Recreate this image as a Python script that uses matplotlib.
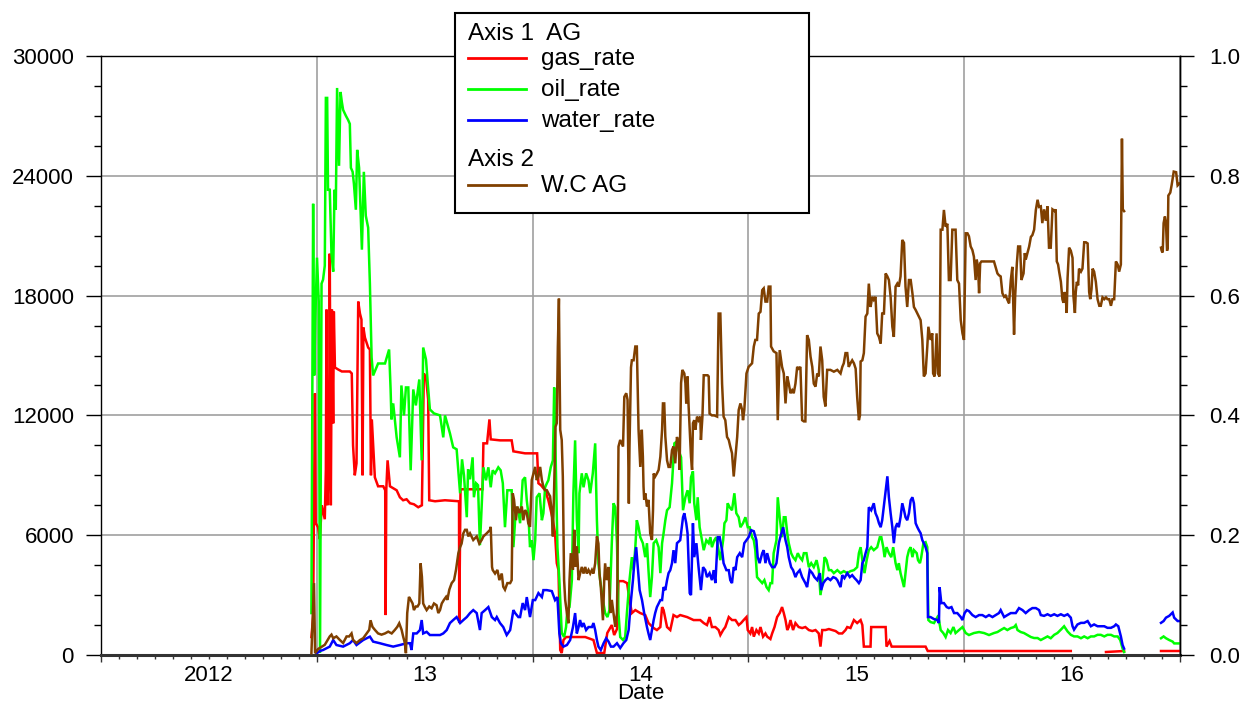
import numpy as np
import matplotlib
matplotlib.use("Agg")
import matplotlib.pyplot as plt
from matplotlib.ticker import MultipleLocator, FixedLocator, FormatStrFormatter, NullFormatter
from matplotlib.lines import Line2D
from matplotlib.patches import Rectangle

plt.rcParams['font.family'] = ['Liberation Sans', 'DejaVu Sans']

nan = np.nan

# time is in decimal years, rates on axis 1, water cut (fraction) on axis 2
year_mid = [2012.5, 2013.5, 2014.5, 2015.5, 2016.5]
year_labels = ['2012', '13', '14', '15', '16']

gas_rate = [
    (2012.975, 900), (2012.983, 1900), (2012.991, 13100), (2012.995, 6600), (2013.006, 6400),
    (2013.014, 5800), (2013.023, 7500), (2013.037, 6800), (2013.042, 9300), (2013.045, 17300),
    (2013.049, 7500), (2013.057, 10000), (2013.060, 20100), (2013.065, 7500), (2013.070, 17300),
    (2013.076, 11600), (2013.079, 17200), (2013.084, 14400), (2013.099, 14300), (2013.116, 14200),
    (2013.135, 14200), (2013.153, 14200), (2013.162, 14100), (2013.168, 10500), (2013.176, 9000),
    (2013.184, 9600), (2013.192, 17700), (2013.200, 17100), (2013.207, 16800), (2013.212, 9000),
    (2013.216, 16400), (2013.223, 15900), (2013.238, 15400), (2013.246, 15300), (2013.251, 9000),
    (2013.255, 11800), (2013.269, 8900), (2013.284, 8450), (2013.308, 8450), (2013.317, 8250),
    (2013.319, 2000), (2013.322, 8300), (2013.328, 9750), (2013.339, 8450), (2013.370, 8250),
    (2013.385, 7900), (2013.400, 7750), (2013.416, 7800), (2013.432, 7600), (2013.450, 7550),
    (2013.470, 7400), (2013.487, 7500), (2013.490, 9750), (2013.496, 14100), (2013.506, 13900),
    (2013.516, 12800), (2013.521, 7750), (2013.548, 7700), (2013.594, 7750), (2013.659, 7700),
    (2013.660, 1600), (2013.666, 8300), (2013.710, 8300), (2013.768, 8300), (2013.772, 10600),
    (2013.789, 10600), (2013.800, 11800), (2013.806, 10800), (2013.849, 10750), (2013.903, 10750),
    (2013.911, 10200), (2013.965, 10100), (2014.021, 10100), (2014.027, 8600), (2014.039, 8500),
    (2014.058, 8250), (2014.073, 7750), (2014.084, 7250), (2014.094, 6750), (2014.104, 6100),
    (2014.112, 4600), (2014.120, 4250), (2014.128, 250), (2014.135, 100), (2014.143, 750),
    (2014.155, 900), (2014.197, 900), (2014.244, 900), (2014.282, 750), (2014.290, 420),
    (2014.298, 100), (2014.332, 100), (2014.346, 1100), (2014.367, 1500), (2014.378, 1000),
    (2014.391, 1300), (2014.398, 3700), (2014.420, 3700), (2014.438, 3600), (2014.449, 2750),
    (2014.460, 2100), (2014.476, 2250), (2014.499, 2100), (2014.522, 2000), (2014.537, 1600),
    (2014.561, 1350), (2014.576, 1250), (2014.592, 1400), (2014.600, 2400), (2014.607, 2250),
    (2014.623, 1400), (2014.638, 1250), (2014.653, 2000), (2014.669, 1900), (2014.684, 2000),
    (2014.716, 1900), (2014.746, 1750), (2014.777, 1750), (2014.793, 1600), (2014.808, 1500),
    (2014.820, 1900), (2014.831, 1400), (2014.847, 1400), (2014.862, 1250), (2014.870, 1000),
    (2014.883, 1250), (2014.893, 1400), (2014.909, 1900), (2014.924, 1750), (2014.940, 1750),
    (2014.955, 1500), (2014.966, 1600), (2014.978, 1750), (2014.991, 1900), (2014.997, 1250),
    (2015.009, 1080), (2015.017, 1400), (2015.025, 920), (2015.037, 1250), (2015.048, 1080),
    (2015.056, 1400), (2015.068, 920), (2015.079, 1080), (2015.087, 920), (2015.102, 800),
    (2015.110, 1080), (2015.121, 1400), (2015.133, 1900), (2015.145, 2100), (2015.156, 2400),
    (2015.164, 2100), (2015.172, 1750), (2015.180, 1250), (2015.187, 1400), (2015.195, 1750),
    (2015.207, 1250), (2015.218, 1600), (2015.233, 1400), (2015.249, 1350), (2015.264, 1400),
    (2015.280, 1250), (2015.296, 1200), (2015.311, 1250), (2015.326, 1080), (2015.334, 420),
    (2015.342, 1250), (2015.357, 1250), (2015.373, 1300), (2015.388, 1250), (2015.404, 1200),
    (2015.419, 1080), (2015.435, 1080), (2015.450, 1250), (2015.458, 1400), (2015.473, 1350),
    (2015.489, 1750), (2015.504, 1600), (2015.520, 1750), (2015.528, 1500), (2015.535, 420),
    (2015.566, 420), (2015.569, 1400), (2015.636, 1400), (2015.640, 420), (2015.654, 700),
    (2015.664, 420), (2015.821, 420), (2015.831, 200), (2016.494, 200), (2016.500, nan),
    (2016.657, 150), (2016.741, 200), (2016.800, nan), (2016.912, 200), (2016.999, 200),
]

oil_rate = [
    (2012.975, 2100), (2012.983, 22600), (2012.988, 14000), (2012.993, 16800), (2013.001, 19900),
    (2013.009, 17700), (2013.015, 100), (2013.022, 18600), (2013.029, 18800), (2013.037, 19500),
    (2013.042, 27900), (2013.048, 27900), (2013.052, 23300), (2013.060, 23300), (2013.068, 20100),
    (2013.076, 19200), (2013.082, 23300), (2013.088, 22300), (2013.094, 28400), (2013.103, 24500),
    (2013.110, 28200), (2013.116, 27700), (2013.122, 27300), (2013.135, 27000), (2013.145, 26800),
    (2013.153, 26600), (2013.158, 24400), (2013.166, 24200), (2013.172, 23600), (2013.181, 22300),
    (2013.187, 25300), (2013.196, 24400), (2013.209, 20300), (2013.218, 24200), (2013.227, 22000),
    (2013.238, 21400), (2013.246, 18600), (2013.254, 14900), (2013.261, 14000), (2013.284, 14600),
    (2013.316, 14600), (2013.335, 15300), (2013.342, 13300), (2013.346, 11800), (2013.354, 12600),
    (2013.370, 10900), (2013.385, 9900), (2013.392, 13500), (2013.404, 12000), (2013.413, 13400),
    (2013.424, 13400), (2013.435, 9250), (2013.447, 13300), (2013.459, 12500), (2013.475, 13800),
    (2013.486, 9750), (2013.493, 15400), (2013.506, 14800), (2013.515, 13500), (2013.524, 12300),
    (2013.543, 12100), (2013.571, 12000), (2013.586, 10900), (2013.594, 12000), (2013.617, 11100),
    (2013.632, 10400), (2013.648, 10300), (2013.664, 8100), (2013.673, 9800), (2013.682, 9000),
    (2013.695, 6900), (2013.701, 9300), (2013.710, 8800), (2013.722, 9900), (2013.728, 7900),
    (2013.738, 8600), (2013.747, 8500), (2013.756, 5500), (2013.772, 9400), (2013.784, 8750),
    (2013.795, 9400), (2013.806, 8400), (2013.815, 9250), (2013.826, 9100), (2013.841, 9400),
    (2013.852, 9250), (2013.862, 8600), (2013.872, 6400), (2013.883, 8250), (2013.903, 8250),
    (2013.911, 5400), (2013.923, 7400), (2013.934, 7250), (2013.942, 6600), (2013.954, 8750),
    (2013.965, 8900), (2013.973, 7750), (2013.980, 7100), (2013.988, 5400), (2013.996, 5750),
    (2014.004, 4750), (2014.012, 5750), (2014.019, 7900), (2014.032, 8100), (2014.043, 6750),
    (2014.050, 7100), (2014.058, 8400), (2014.066, 8600), (2014.073, 8750), (2014.084, 9400),
    (2014.094, 9750), (2014.100, 13400), (2014.106, 10400), (2014.115, 5400), (2014.124, 3750),
    (2014.135, 1100), (2014.146, 900), (2014.155, 1400), (2014.161, 2250), (2014.171, 2400),
    (2014.182, 3750), (2014.189, 8100), (2014.197, 10750), (2014.205, 6750), (2014.213, 5100),
    (2014.217, 8100), (2014.228, 9100), (2014.236, 8400), (2014.248, 9100), (2014.259, 8750),
    (2014.267, 8100), (2014.279, 9100), (2014.290, 10600), (2014.298, 6750), (2014.305, 4600),
    (2014.313, 3750), (2014.326, 2750), (2014.336, 2100), (2014.347, 1900), (2014.356, 2250),
    (2014.367, 5600), (2014.375, 7600), (2014.383, 7400), (2014.391, 5600), (2014.398, 2100),
    (2014.406, 900), (2014.419, 750), (2014.429, 900), (2014.437, 2100), (2014.449, 3750),
    (2014.460, 4900), (2014.468, 4250), (2014.476, 5400), (2014.483, 6750), (2014.491, 6400),
    (2014.499, 5900), (2014.511, 5600), (2014.522, 4900), (2014.530, 5600), (2014.537, 4250),
    (2014.545, 2900), (2014.553, 3900), (2014.561, 5600), (2014.573, 5750), (2014.584, 5400),
    (2014.592, 4100), (2014.600, 5600), (2014.607, 6100), (2014.615, 6750), (2014.623, 7250),
    (2014.635, 7400), (2014.646, 8600), (2014.657, 10600), (2014.669, 10700), (2014.677, 10250),
    (2014.688, 9900), (2014.697, 7250), (2014.708, 7900), (2014.718, 8250), (2014.728, 7600),
    (2014.734, 8900), (2014.743, 9200), (2014.749, 7600), (2014.759, 6750), (2014.765, 7900),
    (2014.774, 6400), (2014.785, 5750), (2014.793, 5250), (2014.805, 5750), (2014.816, 5600),
    (2014.824, 5900), (2014.831, 5400), (2014.842, 5750), (2014.851, 5900), (2014.862, 5250),
    (2014.870, 4750), (2014.883, 5750), (2014.889, 6600), (2014.898, 6750), (2014.904, 7600),
    (2014.913, 7400), (2014.924, 7250), (2014.935, 8100), (2014.944, 7100), (2014.955, 6900),
    (2014.963, 6400), (2014.975, 6600), (2014.986, 6900), (2014.997, 6400), (2015.006, 6400),
    (2015.017, 5900), (2015.025, 5750), (2015.032, 5250), (2015.040, 3900), (2015.052, 3750),
    (2015.064, 3600), (2015.074, 3750), (2015.084, 3400), (2015.094, 3250), (2015.102, 3600),
    (2015.110, 3600), (2015.117, 5100), (2015.130, 5750), (2015.136, 7900), (2015.145, 6900),
    (2015.156, 5900), (2015.164, 6900), (2015.172, 6900), (2015.180, 6100), (2015.187, 5600),
    (2015.198, 5100), (2015.207, 4900), (2015.218, 4750), (2015.229, 5100), (2015.238, 4900),
    (2015.249, 4750), (2015.257, 5100), (2015.269, 5100), (2015.280, 4400), (2015.291, 4600),
    (2015.303, 4400), (2015.316, 4750), (2015.326, 4250), (2015.334, 3000), (2015.342, 3600),
    (2015.353, 4900), (2015.362, 4750), (2015.373, 4250), (2015.384, 4250), (2015.396, 4100),
    (2015.412, 4250), (2015.427, 4100), (2015.442, 4200), (2015.458, 4100), (2015.473, 4200),
    (2015.489, 4250), (2015.504, 4400), (2015.512, 5100), (2015.520, 5400), (2015.528, 4750),
    (2015.538, 4100), (2015.548, 4750), (2015.558, 5250), (2015.569, 5400), (2015.581, 5250),
    (2015.597, 5400), (2015.609, 5900), (2015.616, 5900), (2015.625, 5400), (2015.631, 4900),
    (2015.640, 5400), (2015.651, 5100), (2015.662, 4900), (2015.671, 5400), (2015.682, 4600),
    (2015.690, 4250), (2015.697, 4600), (2015.705, 4100), (2015.713, 3750), (2015.721, 3400),
    (2015.728, 4100), (2015.736, 4900), (2015.744, 5250), (2015.752, 5400), (2015.760, 4900),
    (2015.767, 5250), (2015.780, 5100), (2015.786, 4750), (2015.795, 4600), (2015.801, 4900),
    (2015.811, 5600), (2015.821, 5650), (2015.829, 5400), (2015.834, 1750), (2015.844, 1650),
    (2015.860, 1600), (2015.876, 1900), (2015.883, 1750), (2015.891, 1250), (2015.903, 1100),
    (2015.914, 900), (2015.925, 1250), (2015.937, 1100), (2015.950, 1400), (2015.960, 1100),
    (2015.976, 1250), (2015.992, 1400), (2016.007, 1100), (2016.022, 1000), (2016.045, 1100),
    (2016.069, 1150), (2016.092, 1100), (2016.115, 1000), (2016.138, 1100), (2016.154, 1150),
    (2016.169, 1250), (2016.185, 1350), (2016.200, 1250), (2016.216, 1350), (2016.231, 1400),
    (2016.239, 1500), (2016.247, 1250), (2016.262, 1150), (2016.277, 1100), (2016.293, 1000),
    (2016.309, 900), (2016.324, 850), (2016.340, 850), (2016.355, 750), (2016.370, 840),
    (2016.386, 930), (2016.401, 840), (2016.417, 1010), (2016.432, 1100), (2016.448, 1270),
    (2016.463, 1440), (2016.479, 1180), (2016.494, 1010), (2016.509, 930), (2016.525, 930),
    (2016.541, 840), (2016.556, 930), (2016.572, 840), (2016.587, 930), (2016.602, 930),
    (2016.618, 1010), (2016.633, 1010), (2016.649, 930), (2016.664, 1010), (2016.680, 1010),
    (2016.695, 930), (2016.711, 930), (2016.723, 750), (2016.734, 320), (2016.741, 150),
    (2016.800, nan), (2016.912, 840), (2016.924, 930), (2016.935, 840), (2016.950, 750),
    (2016.966, 670), (2016.973, 580), (2016.997, 580),
]

water_rate = [
    (2012.999, 80), (2013.014, 200), (2013.029, 250), (2013.060, 420), (2013.076, 750),
    (2013.091, 500), (2013.122, 420), (2013.153, 590), (2013.168, 750), (2013.184, 500),
    (2013.215, 750), (2013.246, 920), (2013.261, 670), (2013.292, 590), (2013.323, 500),
    (2013.354, 420), (2013.385, 500), (2013.416, 590), (2013.432, 590), (2013.439, 250),
    (2013.447, 1080), (2013.463, 1080), (2013.478, 1250), (2013.486, 1750), (2013.493, 1080),
    (2013.509, 1160), (2013.524, 1000), (2013.555, 1000), (2013.571, 1000), (2013.586, 1080),
    (2013.602, 1250), (2013.617, 1600), (2013.632, 1750), (2013.648, 1900), (2013.664, 1600),
    (2013.679, 1750), (2013.695, 1900), (2013.710, 2100), (2013.725, 2250), (2013.741, 2100),
    (2013.756, 1250), (2013.764, 2100), (2013.780, 2250), (2013.795, 2400), (2013.811, 1900),
    (2013.826, 1750), (2013.834, 1900), (2013.849, 1600), (2013.864, 1400), (2013.880, 1000),
    (2013.896, 1250), (2013.911, 2250), (2013.919, 2100), (2013.934, 1900), (2013.942, 1900),
    (2013.954, 2600), (2013.965, 2250), (2013.973, 2900), (2013.988, 1900), (2014.001, 2750),
    (2014.012, 2750), (2014.027, 3100), (2014.043, 2900), (2014.050, 3250), (2014.066, 3250),
    (2014.089, 3200), (2014.104, 2750), (2014.115, 2900), (2014.124, 1080), (2014.131, 590),
    (2014.143, 420), (2014.159, 500), (2014.174, 750), (2014.187, 1400), (2014.197, 2100),
    (2014.205, 1080), (2014.213, 1400), (2014.220, 1750), (2014.228, 1400), (2014.236, 1600),
    (2014.248, 1250), (2014.259, 1400), (2014.275, 1400), (2014.282, 1600), (2014.290, 1250),
    (2014.298, 750), (2014.305, 420), (2014.316, 250), (2014.329, 590), (2014.341, 840),
    (2014.352, 670), (2014.363, 420), (2014.375, 420), (2014.391, 590), (2014.406, 350),
    (2014.421, 590), (2014.434, 750), (2014.445, 1250), (2014.456, 2750), (2014.465, 3750),
    (2014.471, 4600), (2014.480, 5400), (2014.486, 4600), (2014.496, 3250), (2014.507, 2750),
    (2014.517, 2100), (2014.530, 1400), (2014.537, 1080), (2014.545, 750), (2014.553, 1250),
    (2014.561, 1750), (2014.568, 2100), (2014.576, 2400), (2014.592, 2750), (2014.600, 2750),
    (2014.607, 3400), (2014.615, 3250), (2014.623, 3750), (2014.630, 4100), (2014.638, 4250),
    (2014.646, 4600), (2014.653, 5250), (2014.661, 4600), (2014.669, 5600), (2014.684, 5750),
    (2014.697, 6900), (2014.703, 7100), (2014.712, 6600), (2014.718, 6100), (2014.728, 3100),
    (2014.734, 3000), (2014.743, 6600), (2014.749, 4900), (2014.759, 5600), (2014.769, 4400),
    (2014.780, 3250), (2014.790, 4400), (2014.800, 4250), (2014.808, 3900), (2014.820, 4100),
    (2014.831, 3750), (2014.839, 4250), (2014.847, 3600), (2014.858, 5900), (2014.867, 5900),
    (2014.878, 5250), (2014.885, 4600), (2014.898, 4250), (2014.909, 4250), (2014.916, 3750),
    (2014.924, 3600), (2014.932, 4400), (2014.940, 4250), (2014.948, 4900), (2014.960, 5100),
    (2014.971, 4900), (2014.981, 5600), (2014.991, 5750), (2015.001, 5900), (2015.013, 6250),
    (2015.025, 6200), (2015.037, 5750), (2015.043, 4900), (2015.052, 4600), (2015.064, 5100),
    (2015.071, 5250), (2015.079, 4600), (2015.087, 5100), (2015.099, 4600), (2015.110, 4400),
    (2015.121, 4400), (2015.130, 4600), (2015.141, 5600), (2015.148, 5900), (2015.161, 6400),
    (2015.172, 5750), (2015.180, 5400), (2015.187, 4900), (2015.198, 4400), (2015.207, 4250),
    (2015.218, 3900), (2015.226, 4100), (2015.238, 4250), (2015.249, 3900), (2015.264, 3600),
    (2015.272, 3400), (2015.284, 4250), (2015.296, 4100), (2015.306, 3900), (2015.319, 3750),
    (2015.331, 4100), (2015.337, 3250), (2015.347, 3600), (2015.357, 3750), (2015.368, 3850),
    (2015.380, 3750), (2015.393, 3900), (2015.404, 3850), (2015.412, 3750), (2015.427, 3400),
    (2015.435, 4000), (2015.445, 3850), (2015.458, 4100), (2015.470, 3900), (2015.481, 4000),
    (2015.492, 3850), (2015.501, 3750), (2015.512, 3600), (2015.520, 3750), (2015.528, 4600),
    (2015.535, 4750), (2015.543, 5100), (2015.551, 5400), (2015.558, 7400), (2015.569, 7250),
    (2015.581, 7600), (2015.589, 7100), (2015.597, 6900), (2015.605, 6600), (2015.613, 6400),
    (2015.620, 6750), (2015.631, 7750), (2015.644, 8950), (2015.651, 7900), (2015.659, 7100),
    (2015.667, 6400), (2015.674, 5600), (2015.682, 6400), (2015.690, 6600), (2015.697, 6400),
    (2015.705, 6900), (2015.713, 7600), (2015.721, 7250), (2015.728, 6900), (2015.736, 6750),
    (2015.744, 7100), (2015.752, 7750), (2015.760, 7900), (2015.767, 7600), (2015.775, 6600),
    (2015.783, 6400), (2015.790, 6250), (2015.798, 6100), (2015.806, 5750), (2015.813, 5600),
    (2015.821, 5400), (2015.829, 5100), (2015.832, 1900), (2015.844, 1900), (2015.860, 1800),
    (2015.876, 1750), (2015.883, 1600), (2015.886, 3400), (2015.894, 2600), (2015.906, 2600),
    (2015.919, 2400), (2015.929, 2350), (2015.941, 2400), (2015.953, 2100), (2015.968, 2100),
    (2015.984, 1900), (2015.992, 1750), (2016.002, 2100), (2016.012, 2250), (2016.022, 2200),
    (2016.038, 2000), (2016.053, 1900), (2016.069, 2000), (2016.084, 2000), (2016.100, 1900),
    (2016.115, 2000), (2016.131, 1900), (2016.146, 2000), (2016.161, 2100), (2016.169, 2250),
    (2016.185, 1900), (2016.200, 2000), (2016.216, 2100), (2016.239, 2100), (2016.254, 2350),
    (2016.270, 2250), (2016.285, 2100), (2016.301, 2250), (2016.316, 2350), (2016.332, 2350),
    (2016.347, 2250), (2016.355, 2000), (2016.370, 1960), (2016.386, 2040), (2016.401, 1960),
    (2016.417, 2040), (2016.432, 1960), (2016.448, 2040), (2016.463, 1960), (2016.479, 2040),
    (2016.494, 1870), (2016.502, 1440), (2016.509, 1270), (2016.525, 1530), (2016.541, 1610),
    (2016.556, 1610), (2016.572, 1700), (2016.587, 1440), (2016.602, 1530), (2016.618, 1440),
    (2016.633, 1440), (2016.649, 1440), (2016.664, 1360), (2016.680, 1360), (2016.695, 1440),
    (2016.703, 1530), (2016.714, 1440), (2016.726, 930), (2016.734, 500), (2016.741, 320),
    (2016.800, nan), (2016.912, 1610), (2016.924, 1700), (2016.935, 1870), (2016.950, 1960),
    (2016.966, 2130), (2016.973, 1870), (2016.989, 1700), (2016.997, 1700),
]

water_cut = [
    (2012.975, 0.003), (2012.987, 0.12), (2012.992, 0.003), (2013.006, 0.01), (2013.037, 0.017),
    (2013.060, 0.031), (2013.068, 0.034), (2013.076, 0.028), (2013.091, 0.031), (2013.107, 0.025),
    (2013.122, 0.020), (2013.138, 0.031), (2013.150, 0.031), (2013.161, 0.036), (2013.168, 0.025),
    (2013.184, 0.020), (2013.200, 0.025), (2013.215, 0.028), (2013.231, 0.036), (2013.243, 0.042),
    (2013.249, 0.058), (2013.258, 0.047), (2013.269, 0.042), (2013.284, 0.036), (2013.300, 0.034),
    (2013.316, 0.036), (2013.331, 0.039), (2013.347, 0.036), (2013.362, 0.042), (2013.373, 0.047),
    (2013.382, 0.053), (2013.393, 0.042), (2013.400, 0.031), (2013.408, 0.020), (2013.413, 0.003),
    (2013.419, 0.070), (2013.427, 0.097), (2013.435, 0.092), (2013.444, 0.086), (2013.450, 0.075),
    (2013.459, 0.081), (2013.467, 0.081), (2013.475, 0.086), (2013.481, 0.153), (2013.487, 0.131),
    (2013.493, 0.086), (2013.501, 0.080), (2013.509, 0.075), (2013.521, 0.081), (2013.532, 0.078),
    (2013.543, 0.086), (2013.555, 0.083), (2013.563, 0.070), (2013.571, 0.075), (2013.579, 0.086),
    (2013.589, 0.092), (2013.599, 0.097), (2013.605, 0.092), (2013.614, 0.109), (2013.625, 0.120),
    (2013.636, 0.125), (2013.645, 0.142), (2013.656, 0.170), (2013.664, 0.180), (2013.671, 0.186),
    (2013.679, 0.203), (2013.687, 0.209), (2013.695, 0.209), (2013.702, 0.198), (2013.710, 0.203),
    (2013.725, 0.192), (2013.741, 0.198), (2013.753, 0.186), (2013.764, 0.192), (2013.772, 0.198),
    (2013.787, 0.203), (2013.803, 0.209), (2013.806, 0.214), (2013.812, 0.147), (2013.815, 0.142),
    (2013.826, 0.136), (2013.837, 0.142), (2013.846, 0.125), (2013.857, 0.136), (2013.864, 0.114),
    (2013.872, 0.109), (2013.883, 0.120), (2013.896, 0.120), (2013.903, 0.125), (2013.908, 0.270),
    (2013.914, 0.259), (2013.923, 0.225), (2013.929, 0.248), (2013.939, 0.237), (2013.950, 0.248),
    (2013.957, 0.225), (2013.965, 0.242), (2013.973, 0.237), (2013.980, 0.220), (2013.988, 0.214),
    (2013.996, 0.292), (2014.004, 0.303), (2014.012, 0.314), (2014.019, 0.292), (2014.027, 0.298),
    (2014.035, 0.314), (2014.043, 0.292), (2014.050, 0.281), (2014.058, 0.275), (2014.066, 0.275),
    (2014.073, 0.270), (2014.081, 0.265), (2014.089, 0.237), (2014.094, 0.198), (2014.100, 0.281),
    (2014.106, 0.381), (2014.112, 0.387), (2014.117, 0.515), (2014.122, 0.595), (2014.124, 0.515),
    (2014.128, 0.376), (2014.135, 0.359), (2014.140, 0.298), (2014.146, 0.125), (2014.151, 0.092),
    (2014.159, 0.070), (2014.166, 0.053), (2014.171, 0.125), (2014.177, 0.170), (2014.187, 0.142),
    (2014.193, 0.209), (2014.199, 0.147), (2014.205, 0.181), (2014.213, 0.125), (2014.220, 0.136),
    (2014.228, 0.147), (2014.236, 0.136), (2014.244, 0.147), (2014.251, 0.136), (2014.259, 0.142),
    (2014.267, 0.136), (2014.275, 0.142), (2014.282, 0.136), (2014.290, 0.153), (2014.298, 0.198),
    (2014.305, 0.186), (2014.310, 0.136), (2014.316, 0.114), (2014.326, 0.058), (2014.332, 0.125),
    (2014.336, 0.153), (2014.344, 0.125), (2014.352, 0.147), (2014.360, 0.070), (2014.367, 0.092),
    (2014.375, 0.070), (2014.383, 0.047), (2014.391, 0.070), (2014.393, 0.125), (2014.398, 0.348),
    (2014.406, 0.359), (2014.419, 0.348), (2014.425, 0.431), (2014.434, 0.437), (2014.440, 0.426),
    (2014.446, 0.253), (2014.449, 0.348), (2014.456, 0.480), (2014.460, 0.492), (2014.468, 0.492),
    (2014.476, 0.515), (2014.483, 0.515), (2014.486, 0.465), (2014.491, 0.376), (2014.499, 0.314),
    (2014.506, 0.376), (2014.511, 0.331), (2014.514, 0.281), (2014.517, 0.259), (2014.522, 0.270),
    (2014.530, 0.248), (2014.537, 0.259), (2014.545, 0.203), (2014.553, 0.192), (2014.558, 0.242),
    (2014.561, 0.303), (2014.568, 0.298), (2014.576, 0.303), (2014.584, 0.309), (2014.592, 0.331),
    (2014.600, 0.376), (2014.604, 0.420), (2014.610, 0.420), (2014.615, 0.365), (2014.623, 0.325),
    (2014.630, 0.314), (2014.638, 0.314), (2014.646, 0.342), (2014.653, 0.348), (2014.661, 0.320),
    (2014.669, 0.364), (2014.677, 0.353), (2014.681, 0.309), (2014.688, 0.454), (2014.694, 0.476),
    (2014.703, 0.470), (2014.708, 0.454), (2014.712, 0.420), (2014.718, 0.465), (2014.723, 0.415),
    (2014.728, 0.376), (2014.734, 0.331), (2014.739, 0.309), (2014.743, 0.387), (2014.749, 0.392),
    (2014.754, 0.376), (2014.762, 0.398), (2014.769, 0.392), (2014.777, 0.398), (2014.780, 0.359),
    (2014.787, 0.398), (2014.793, 0.467), (2014.800, 0.467), (2014.811, 0.467), (2014.816, 0.465),
    (2014.820, 0.403), (2014.831, 0.400), (2014.842, 0.400), (2014.855, 0.398), (2014.862, 0.570),
    (2014.870, 0.570), (2014.878, 0.453), (2014.885, 0.398), (2014.893, 0.392), (2014.901, 0.364),
    (2014.909, 0.359), (2014.916, 0.348), (2014.924, 0.337), (2014.932, 0.298), (2014.940, 0.331),
    (2014.948, 0.364), (2014.955, 0.409), (2014.963, 0.420), (2014.971, 0.409), (2014.975, 0.392),
    (2014.981, 0.409), (2014.991, 0.470), (2015.001, 0.481), (2015.009, 0.484), (2015.017, 0.487),
    (2015.025, 0.515), (2015.032, 0.526), (2015.040, 0.526), (2015.048, 0.570), (2015.056, 0.573),
    (2015.064, 0.609), (2015.071, 0.612), (2015.079, 0.590), (2015.087, 0.590), (2015.094, 0.615),
    (2015.102, 0.615), (2015.105, 0.515), (2015.117, 0.507), (2015.130, 0.504), (2015.136, 0.392),
    (2015.145, 0.509), (2015.156, 0.481), (2015.164, 0.470), (2015.172, 0.420), (2015.180, 0.465),
    (2015.187, 0.453), (2015.195, 0.437), (2015.203, 0.442), (2015.210, 0.437), (2015.218, 0.453),
    (2015.226, 0.481), (2015.233, 0.478), (2015.241, 0.481), (2015.249, 0.392), (2015.257, 0.390),
    (2015.264, 0.390), (2015.272, 0.534), (2015.280, 0.526), (2015.288, 0.498), (2015.296, 0.481),
    (2015.303, 0.453), (2015.311, 0.448), (2015.319, 0.470), (2015.326, 0.465), (2015.334, 0.515),
    (2015.342, 0.492), (2015.349, 0.431), (2015.357, 0.415), (2015.365, 0.476), (2015.380, 0.476),
    (2015.396, 0.473), (2015.412, 0.476), (2015.427, 0.470), (2015.435, 0.481), (2015.442, 0.487),
    (2015.450, 0.504), (2015.458, 0.504), (2015.465, 0.481), (2015.473, 0.487), (2015.481, 0.492),
    (2015.489, 0.487), (2015.497, 0.478), (2015.504, 0.431), (2015.512, 0.392), (2015.517, 0.400),
    (2015.520, 0.490), (2015.528, 0.492), (2015.535, 0.504), (2015.543, 0.565), (2015.551, 0.570),
    (2015.558, 0.620), (2015.566, 0.581), (2015.574, 0.598), (2015.581, 0.593), (2015.589, 0.598),
    (2015.597, 0.537), (2015.605, 0.531), (2015.613, 0.520), (2015.620, 0.570), (2015.628, 0.570),
    (2015.636, 0.637), (2015.644, 0.632), (2015.651, 0.626), (2015.659, 0.598), (2015.667, 0.548),
    (2015.674, 0.531), (2015.682, 0.615), (2015.690, 0.620), (2015.697, 0.615), (2015.705, 0.632),
    (2015.713, 0.693), (2015.721, 0.688), (2015.728, 0.615), (2015.736, 0.581), (2015.744, 0.626),
    (2015.752, 0.626), (2015.760, 0.604), (2015.767, 0.581), (2015.775, 0.576), (2015.783, 0.570),
    (2015.790, 0.565), (2015.798, 0.559), (2015.806, 0.526), (2015.813, 0.465), (2015.821, 0.470),
    (2015.829, 0.515), (2015.834, 0.548), (2015.844, 0.526), (2015.852, 0.537), (2015.856, 0.470),
    (2015.863, 0.465), (2015.872, 0.537), (2015.878, 0.470), (2015.886, 0.465), (2015.891, 0.710),
    (2015.899, 0.710), (2015.906, 0.743), (2015.914, 0.715), (2015.922, 0.720), (2015.929, 0.626),
    (2015.937, 0.626), (2015.945, 0.710), (2015.953, 0.710), (2015.960, 0.710), (2015.968, 0.626),
    (2015.976, 0.620), (2015.984, 0.559), (2015.992, 0.537), (2015.999, 0.526), (2016.007, 0.704),
    (2016.015, 0.704), (2016.022, 0.699), (2016.030, 0.682), (2016.038, 0.676), (2016.045, 0.665),
    (2016.053, 0.626), (2016.058, 0.660), (2016.064, 0.648), (2016.069, 0.604), (2016.074, 0.654),
    (2016.080, 0.657), (2016.089, 0.657), (2016.108, 0.657), (2016.123, 0.657), (2016.138, 0.657),
    (2016.154, 0.637), (2016.161, 0.634), (2016.169, 0.632), (2016.177, 0.604), (2016.185, 0.598),
    (2016.192, 0.600), (2016.200, 0.593), (2016.208, 0.587), (2016.216, 0.626), (2016.223, 0.648),
    (2016.231, 0.535), (2016.236, 0.598), (2016.244, 0.654), (2016.250, 0.682), (2016.259, 0.682),
    (2016.265, 0.626), (2016.275, 0.637), (2016.281, 0.671), (2016.285, 0.660), (2016.293, 0.671),
    (2016.301, 0.682), (2016.309, 0.698), (2016.316, 0.701), (2016.324, 0.710), (2016.332, 0.743),
    (2016.340, 0.760), (2016.347, 0.748), (2016.355, 0.749), (2016.362, 0.721), (2016.370, 0.744),
    (2016.378, 0.725), (2016.386, 0.749), (2016.393, 0.680), (2016.401, 0.680), (2016.409, 0.744),
    (2016.420, 0.741), (2016.424, 0.744), (2016.429, 0.657), (2016.435, 0.652), (2016.440, 0.640),
    (2016.448, 0.623), (2016.455, 0.594), (2016.460, 0.588), (2016.466, 0.606), (2016.471, 0.594),
    (2016.475, 0.571), (2016.479, 0.629), (2016.486, 0.680), (2016.494, 0.675), (2016.502, 0.663),
    (2016.506, 0.600), (2016.513, 0.571), (2016.517, 0.606), (2016.522, 0.623), (2016.528, 0.617),
    (2016.532, 0.645), (2016.541, 0.640), (2016.548, 0.645), (2016.556, 0.689), (2016.564, 0.689),
    (2016.572, 0.687), (2016.579, 0.606), (2016.584, 0.594), (2016.590, 0.611), (2016.595, 0.645),
    (2016.602, 0.640), (2016.610, 0.623), (2016.618, 0.594), (2016.626, 0.583), (2016.633, 0.583),
    (2016.641, 0.597), (2016.649, 0.594), (2016.657, 0.597), (2016.664, 0.594), (2016.672, 0.594),
    (2016.680, 0.583), (2016.687, 0.594), (2016.695, 0.594), (2016.703, 0.657), (2016.711, 0.652),
    (2016.718, 0.640), (2016.726, 0.652), (2016.731, 0.862), (2016.735, 0.744), (2016.741, 0.741),
    (2016.800, nan), (2016.912, 0.680), (2016.915, 0.675), (2016.920, 0.672), (2016.924, 0.721),
    (2016.930, 0.732), (2016.935, 0.721), (2016.940, 0.675), (2016.943, 0.680), (2016.946, 0.767),
    (2016.955, 0.772), (2016.961, 0.784), (2016.971, 0.807), (2016.982, 0.806), (2016.989, 0.784),
    (2016.997, 0.787),
]

red = '#ff0000'
green = '#00ff00'
blue = '#0000ff'
brown = '#804000'
grid_c = '#a0a0a0'

fig = plt.figure(figsize=(12.46, 7.05), dpi=100)
ax = fig.add_axes([101 / 1246, 50 / 705, 1079 / 1246, 599 / 705])
ax2 = ax.twinx()

for data, col in [(gas_rate, red), (oil_rate, green), (water_rate, blue)]:
    t, v = zip(*data)
    ax.plot(t, v, color=col, lw=1.8, solid_joinstyle='miter')
t, v = zip(*water_cut)
ax2.plot(t, v, color=brown, lw=1.8, solid_joinstyle='miter')

ax.set_xlim(2012, 2017)
ax.set_ylim(0, 30000)
ax2.set_ylim(0, 1)

ax.xaxis.set_major_locator(FixedLocator([2012, 2013, 2014, 2015, 2016, 2017]))
ax.xaxis.set_minor_locator(MultipleLocator(1 / 12))
ax.xaxis.set_major_formatter(NullFormatter())
ax.yaxis.set_major_locator(MultipleLocator(6000))
ax.yaxis.set_minor_locator(MultipleLocator(1500))
ax.yaxis.set_major_formatter(FormatStrFormatter('%d'))
ax2.yaxis.set_major_locator(MultipleLocator(0.2))
ax2.yaxis.set_minor_locator(MultipleLocator(0.05))
ax2.yaxis.set_major_formatter(FormatStrFormatter('%.1f'))

ax.grid(True, which='major', color=grid_c, lw=1.2)
ax.set_axisbelow(True)

ax.tick_params(axis='y', which='major', length=10.5, width=1, labelsize=16, pad=9)
ax.tick_params(axis='y', which='minor', length=5, width=1)
ax.tick_params(axis='x', which='major', length=5, width=1, color='#333333')
ax.tick_params(axis='x', which='minor', length=3, width=1, color='#333333')
ax2.tick_params(axis='y', which='major', length=10, width=1, labelsize=16, pad=11)
ax2.tick_params(axis='y', which='minor', length=5, width=1)

for s in ['left', 'right', 'top']:
    ax.spines[s].set_linewidth(1)
ax.spines['bottom'].set_linewidth(2.2)
ax.spines['bottom'].set_color('#333333')
for s in ['left', 'top', 'bottom']:
    ax2.spines[s].set_visible(False)
ax2.spines['right'].set_linewidth(1)

for ym, lab in zip(year_mid, year_labels):
    ax.annotate(lab, xy=(ym, 0), xycoords=('data', 'axes fraction'), xytext=(0, -14.5),
                textcoords='offset points', ha='center', va='center', fontsize=16)
ax.annotate('Date', xy=(0.5, 0), xycoords='axes fraction', xytext=(0, -28),
            textcoords='offset points', ha='center', va='center', fontsize=16)

# legend box, drawn in figure pixels converted to fractions
W, H = 1246.0, 705.0
fig.add_artist(Rectangle((455 / W, 1 - 213 / H), 354 / W, 200 / H, transform=fig.transFigure,
                         facecolor='white', edgecolor='black', lw=1.5, zorder=10))
fig.text(468 / W, 1 - 34 / H, 'Axis 1  AG', fontsize=17.5, va='center', ha='left', zorder=11)
fig.text(468 / W, 1 - 160 / H, 'Axis 2', fontsize=17.5, va='center', ha='left', zorder=11)
legend_items = [('gas_rate', red, 58), ('oil_rate', green, 89), ('water_rate', blue, 120), ('W.C AG', brown, 185)]
for lab, col, yy in legend_items:
    fig.add_artist(Line2D([468 / W, 526 / W], [1 - yy / H, 1 - yy / H], transform=fig.transFigure,
                          color=col, lw=2, zorder=11))
    fig.text(541 / W, 1 - (yy + 1) / H, lab, fontsize=17.5, va='center', ha='left', zorder=11)

fig.savefig('out.png', dpi=100)
